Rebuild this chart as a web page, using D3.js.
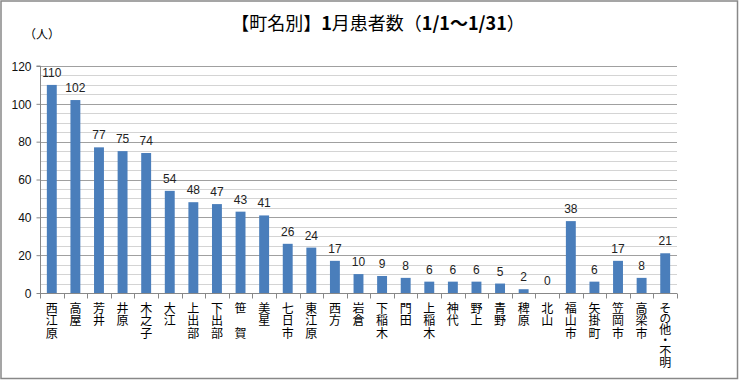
<!DOCTYPE html>
<html><head><meta charset="utf-8">
<script src="https://cdn.jsdelivr.net/npm/d3@7"></script>
<style>body{margin:0;background:#fff}svg{display:block}</style>
</head><body>
<script>
const categories = ["西江原","高屋","芳井","井原","木之子","大江","上出部","下出部","笹 賀","美星","七日市","東江原","西方","岩倉","下稲木","門田","上稲木","神代","野上","青野","稗原","北山","福山市","矢掛町","笠岡市","高梁市","その他・不明"];
const values = [110,102,77,75,74,54,48,47,43,41,26,24,17,10,9,8,6,6,6,5,2,0,38,6,17,8,21];
const yTicks = [0,20,40,60,80,100,120];
const minorTicks = d3.range(0,121,5);
const titleParts = [["【町名別】","normal"],["1","bold"],["月患者数（","normal"],["1/1～1/31","bold"],["）","normal"]];
const unit = "（人）";

const W = 739, H = 380;
const svg = d3.select("body").append("svg").attr("width", W).attr("height", H);
svg.append("rect").attr("x",1).attr("y",1).attr("width",736.5).attr("height",377.5)
  .attr("fill","#fff").attr("stroke","#888").attr("stroke-width",1.5);

const plot = {l:40, r:677, t:66, b:293};
const x = d3.scaleBand().domain(categories).range([plot.l, plot.r]).paddingInner(0.58).paddingOuter(0.29);
const y = d3.scaleLinear().domain([0,120]).range([plot.b, plot.t]);

// gridlines
svg.append("g").selectAll("line").data(minorTicks).join("line")
  .attr("x1",plot.l).attr("x2",plot.r)
  .attr("y1",d=>Math.round(y(d))+0.5).attr("y2",d=>Math.round(y(d))+0.5)
  .attr("stroke",d=>d%20===0?"#a0a0a0":"#d4d4d4").attr("stroke-width",1);

// bars
svg.append("g").selectAll("rect").data(values).join("rect")
  .attr("x",(d,i)=>x(categories[i])).attr("width",x.bandwidth())
  .attr("y",d=>y(d)).attr("height",d=>y(0)-y(d)).attr("fill","#4a7ebb");

// value labels
svg.append("g").selectAll("text").data(values).join("text")
  .attr("x",(d,i)=>x(categories[i])+x.bandwidth()/2).attr("y",d=>y(d)-8)
  .attr("text-anchor","middle").attr("font-family","'Liberation Sans',Arial,sans-serif")
  .attr("font-size",12).attr("fill","#222").text(d=>d);

// y axis
const ya = svg.append("g").attr("transform",`translate(${plot.l+0.5},0)`)
  .call(d3.axisLeft(y).tickValues(yTicks).tickSize(4).tickPadding(5));
ya.select(".domain").attr("stroke","#888").attr("d",`M-4,${plot.t}H0V${plot.b}`);
ya.selectAll(".tick line").attr("stroke","#888");
ya.selectAll("text").attr("font-family","'Liberation Sans',Arial,sans-serif").attr("font-size",12).attr("fill","#111").attr("dy","0.35em");

// x axis
const xa = svg.append("g").attr("transform",`translate(0,${plot.b+0.5})`);
xa.append("line").attr("x1",plot.l).attr("x2",plot.r).attr("stroke","#888");
const bounds = d3.range(categories.length+1).map(i=>plot.l + i*(plot.r-plot.l)/categories.length);
xa.selectAll("line.t").data(bounds).join("line").attr("class","t")
  .attr("x1",d=>Math.round(d)+0.5).attr("x2",d=>Math.round(d)+0.5).attr("y1",0).attr("y2",5).attr("stroke","#888");

// category labels (vertical, upright characters)
const lab = svg.append("g").attr("font-family","'Noto Sans CJK JP',sans-serif").attr("font-size",12).attr("fill","#000");
categories.forEach(c=>{
  const cx = x(c)+x.bandwidth()/2;
  const n = Array.from(c).length;
  const step = n > 1 ? Math.min(12.5, 54/(n-1)) : 12.5;
  lab.append("text")
    .attr("x",cx).attr("y",302)
    .style("writing-mode","vertical-rl").style("text-orientation","upright")
    .style("letter-spacing",(step-12)+"px")
    .text(c.replace(" ","\u3000").length === 3 && c.includes(" ") ? c.replace(" ","\u3000") : c);
});

// title
const tt = svg.append("text").attr("x",378).attr("y",30).attr("text-anchor","middle")
  .attr("font-family","'Noto Sans CJK JP',sans-serif").attr("font-size",18).attr("fill","#000");
titleParts.forEach(([s,w])=>tt.append("tspan").attr("font-weight",w).text(s));

// unit
svg.append("text").attr("x",24).attr("y",39).attr("font-family","'Noto Sans CJK JP',sans-serif")
  .attr("font-size",12).attr("fill","#000").text(unit);
</script>
</body></html>
